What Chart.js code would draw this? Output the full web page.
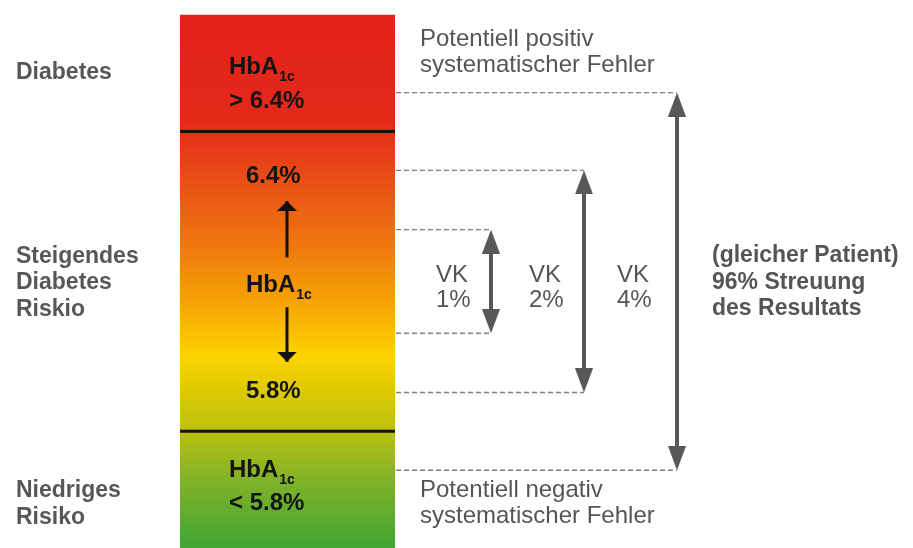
<!DOCTYPE html>
<html>
<head>
<meta charset="utf-8">
<script src="https://cdn.jsdelivr.net/npm/chart.js@4.4.1/dist/chart.umd.min.js"></script>
<style>
  html, body { margin: 0; padding: 0; background: #fff; }
  #wrap { width: 913px; height: 548px; }
</style>
</head>
<body>
<div id="wrap"><canvas id="hbaChart"></canvas></div>
<script>
// HbA1c values (%)
const barRange = [5.38, 6.82];
const zoneLimits = [6.505, 5.695];
const thresholds = [6.4, 5.8];
const vkCenter = 6.1;
const vkLabels = ["1%", "2%", "4%"];
const vkHalfSpread = [0.14, 0.3, 0.51];
const riseArrow = [6.165, 6.317];
const fallArrow = [6.03, 5.883];
const zoneNames = [["Diabetes"], ["Steigendes", "Diabetes", "Riskio"], ["Niedriges", "Risiko"]];

// layout / style
const X = { barLeft: 180, barRight: 395, midArrow: 287, vk: [491, 584, 677] };
const gray = "#58585a";
const headInset = 0.03;
const gradStops = [
  [0, "#e3211a"], [0.2, "#e4291a"], [0.29, "#e84817"], [0.44, "#f07a0e"],
  [0.535, "#f5a205"], [0.64, "#fdd300"], [0.713, "#d9c902"], [0.78, "#bcc010"],
  [0.873, "#80b228"], [1, "#40a535"]
];
const FONT = '"Liberation Sans", Arial, sans-serif';

function arrowHead(w, h, color) {
  const c = document.createElement("canvas");
  c.width = w;
  c.height = 2 * h;
  const g = c.getContext("2d");
  g.fillStyle = color;
  g.beginPath();
  g.moveTo(w / 2, h);
  g.lineTo(w, 2 * h);
  g.lineTo(0, 2 * h);
  g.closePath();
  g.fill();
  return c;
}
const grayHead = arrowHead(18, 24, gray);
const blackHead = arrowHead(20, 10, "#111");

function barGradient(context) {
  const chart = context.chart;
  if (!chart.chartArea) return null;
  const y = chart.scales.y;
  const g = chart.ctx.createLinearGradient(0, y.getPixelForValue(barRange[1]), 0, y.getPixelForValue(barRange[0]));
  gradStops.forEach(([s, c]) => g.addColorStop(s, c));
  return g;
}

const datasets = [];

// gradient bar (drawn first, behind everything)
datasets.push({
  data: [{ x: X.barLeft, y: barRange[1] }, { x: X.barRight, y: barRange[1] }],
  borderWidth: 0,
  pointRadius: 0,
  fill: { value: barRange[0] },
  backgroundColor: barGradient,
  order: 5,
});

// black zone separators
zoneLimits.forEach((v) => {
  datasets.push({
    data: [{ x: X.barLeft, y: v }, { x: X.barRight, y: v }],
    borderColor: "#111",
    borderWidth: 3,
    pointRadius: 0,
  });
});

// VK spreads: dashed guides + double arrows
vkHalfSpread.forEach((h, i) => {
  const top = vkCenter + h;
  const bot = vkCenter - h;
  [top, bot].forEach((v) => {
    datasets.push({
      data: [{ x: X.barRight + 1, y: v }, { x: X.vk[i], y: v }],
      borderColor: "#808080",
      borderWidth: 1.3,
      borderDash: [5, 3],
      pointRadius: 0,
    });
  });
  datasets.push({
    data: [{ x: X.vk[i], y: top - headInset }, { x: X.vk[i], y: bot + headInset }],
    borderColor: gray,
    borderWidth: 4,
    pointRadius: 0,
  });
  datasets.push({
    data: [{ x: X.vk[i], y: top }, { x: X.vk[i], y: bot }],
    showLine: false,
    pointStyle: grayHead,
    pointRadius: 5,
    pointRotation: [0, 180],
  });
});

// black arrows inside the bar
[[riseArrow, 0], [fallArrow, 180]].forEach(([arr, rot]) => {
  datasets.push({
    data: [{ x: X.midArrow, y: arr[0] }, { x: X.midArrow, y: arr[1] }],
    borderColor: "#111",
    borderWidth: 3,
    pointStyle: blackHead,
    pointRadius: [0, 5],
    pointRotation: rot,
  });
});

function hba(ctx, x, y) {
  ctx.font = "bold 24px " + FONT;
  ctx.fillText("HbA", x, y);
  const w = ctx.measureText("HbA").width;
  ctx.font = "bold 14px " + FONT;
  ctx.fillText("1c", x + w + 1, y + 7);
}

const textPlugin = {
  id: "texts",
  afterDatasetsDraw(chart) {
    const ctx = chart.ctx;
    ctx.save();
    ctx.textAlign = "left";
    ctx.textBaseline = "alphabetic";

    // zone names on the left
    ctx.fillStyle = "#575757";
    ctx.font = "bold 23px " + FONT;
    const zoneY = [[79], [263, 289, 316], [497, 524]];
    zoneNames.forEach((lines, i) => lines.forEach((s, j) => ctx.fillText(s, 16, zoneY[i][j])));

    // text inside the bar
    ctx.fillStyle = "#141414";
    hba(ctx, 229, 74);
    ctx.font = "bold 24px " + FONT;
    ctx.fillText("> " + thresholds[0].toFixed(1) + "%", 229, 108);
    ctx.fillText(thresholds[0].toFixed(1) + "%", 246, 183);
    hba(ctx, 246, 292);
    ctx.font = "bold 24px " + FONT;
    ctx.fillText(thresholds[1].toFixed(1) + "%", 246, 398);
    hba(ctx, 229, 477);
    ctx.font = "bold 24px " + FONT;
    ctx.fillText("< " + thresholds[1].toFixed(1) + "%", 229, 510);

    // right side annotations
    ctx.fillStyle = "#555555";
    ctx.font = "24px " + FONT;
    ctx.fillText("Potentiell positiv", 420, 46);
    ctx.fillText("systematischer Fehler", 420, 72);
    ctx.fillText("Potentiell negativ", 420, 497);
    ctx.fillText("systematischer Fehler", 420, 523);
    const vkX = [436, 529, 617];
    vkLabels.forEach((s, i) => {
      ctx.fillText("VK", vkX[i], 282);
      ctx.fillText(s, vkX[i], 307);
    });

    ctx.font = "bold 23px " + FONT;
    ctx.fillText("(gleicher Patient)", 712, 262);
    ctx.fillText("96% Streuung", 712, 289);
    ctx.fillText("des Resultats", 712, 315);
    ctx.restore();
  },
};

new Chart(document.getElementById("hbaChart"), {
  type: "line",
  data: { datasets: datasets },
  options: {
    responsive: true,
    maintainAspectRatio: false,
    animation: false,
    events: [],
    layout: { padding: 0, autoPadding: false },
    plugins: { legend: { display: false }, tooltip: { enabled: false } },
    scales: {
      x: { type: "linear", min: 0, max: 913, display: false },
      y: { type: "linear", min: 5.38, max: 6.86, display: false },
    },
  },
  plugins: [textPlugin],
});
</script>
</body>
</html>
